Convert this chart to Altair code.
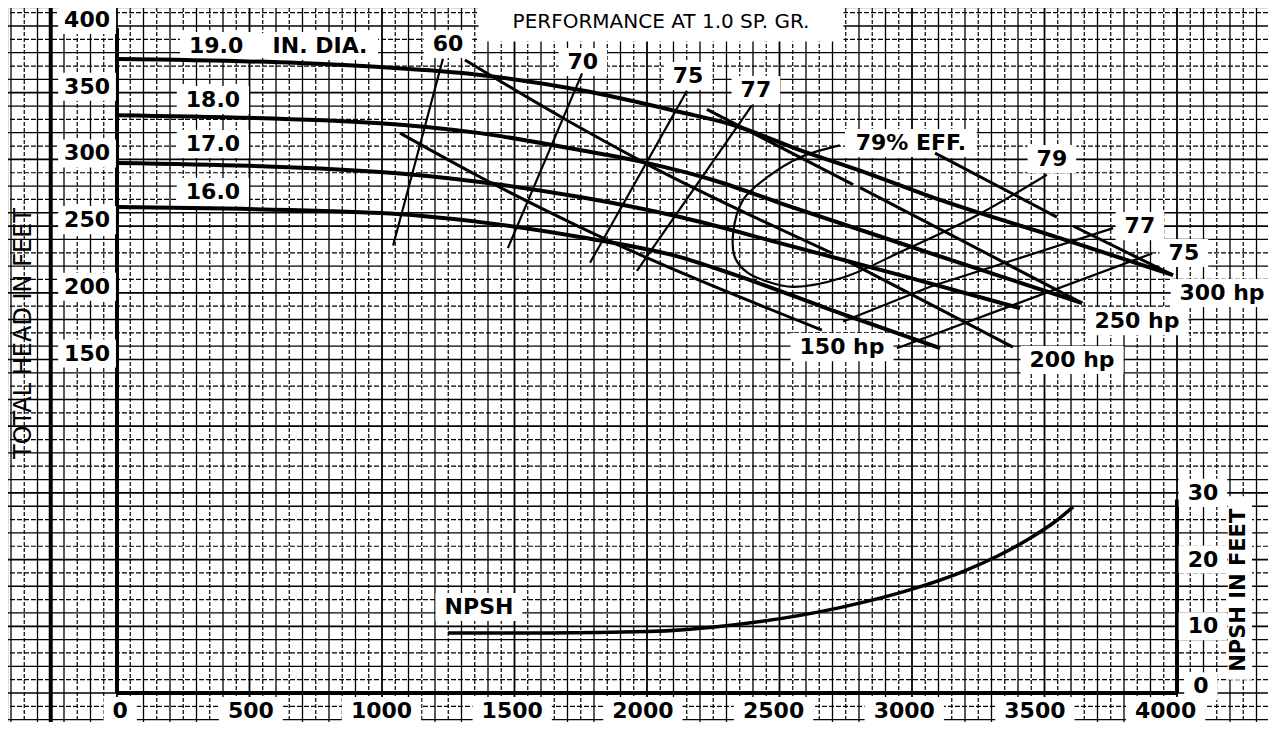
import altair as alt
import pandas as pd

# ---------------- values ----------------
# Head-capacity curves (capacity in US gpm, total head in ft)
q_19 = [0, 690, 992, 1370, 1747, 2125, 2325, 2577, 2830, 3106, 3558, 3985]
h_19 = [370.7, 367.7, 364.7, 358.8, 347.5, 331.0, 321.3, 302.5, 285.3, 265.1, 236.5, 208.8]
q_18 = [0, 992, 1370, 1747, 1985, 2249, 2502, 3068, 3642]
h_18 = [328.7, 322.7, 315.2, 302.5, 293.5, 280.1, 262.8, 225.3, 187.8]
q_17 = [0, 992, 1370, 1747, 2125, 2502, 2955, 3408]
h_17 = [292.8, 286.1, 278.6, 267.3, 252.3, 232.8, 208.8, 184.0]
q_16 = [0, 992, 1370, 1747, 2125, 2313, 2728, 3106]
h_16 = [259.8, 255.3, 248.5, 237.3, 222.3, 210.3, 180.3, 154.0]

# Brake horsepower lines (drawn in pieces where the original is broken)
q_300hp = [3087, 3547, 3608, 3985]
h_300hp = [300.2, 252.3, 245.6, 208.8]
seg_300hp = [0, 0, 1, 1]
q_250hp = [2226, 2778, 2804, 3642]
h_250hp = [333.0, 276.6, 274.4, 187.8]
seg_250hp = [0, 0, 1, 1]
q_200hp = [1313, 1683, 1985, 2698, 2740, 3381]
h_200hp = [370.0, 326.5, 293.5, 225.3, 221.0, 154.8]
seg_200hp = [0, 0, 0, 0, 1, 1]
q_150hp = [1068, 1370, 1747, 2660]
h_150hp = [315.2, 282.3, 244.8, 167.6]

# Efficiency lines (left side, rising to the labels)
q_e60 = [1042, 1230]
h_e60 = [231, 371]
q_e70 = [1475, 1755]
h_e70 = [229, 360]
q_e75 = [1785, 2151]
h_e75 = [218, 347]
q_e77 = [1962, 2396]
h_e77 = [212, 336]
# 79 % loop, continued to the right-hand "79" label
q_e79 = [2728, 2577, 2453, 2362, 2325, 2332, 2377, 2453, 2551, 2740, 2966, 3230, 3509]
h_e79 = [306, 297, 282, 265, 240, 222, 211, 204, 200, 207, 227, 252, 284]
# right-hand efficiency lines
q_e77r = [2740, 3068, 3759]
h_e77r = [174, 200, 244]
q_e75r = [2943, 3906]
h_e75r = [154, 225]

# NPSH required (ft)
q_npsh = [1249, 1634, 2000, 2325, 2728, 3004, 3192, 3321, 3445, 3547, 3608]
n_npsh = [9.0, 9.0, 9.2, 10.2, 12.8, 15.6, 18.2, 20.5, 23.2, 25.9, 27.9]

# Axis tick labels
x_ticks = [0, 500, 1000, 1500, 2000, 2500, 3000, 3500, 4000]
head_ticks = [400, 350, 300, 250, 200, 150]
npsh_ticks = [30, 20, 10, 0]

# ---------------- scales (graph paper fills the page) ----------------
W, H = 1260, 714
X_DOM = [-411.3, 4343.4]
Y_DOM = [-126.2, 409.0]
N_DOM = [-4.35, 102.7]
PX_X = W / (X_DOM[1] - X_DOM[0])
PX_Y = H / (Y_DOM[1] - Y_DOM[0])
PX_N = H / (N_DOM[1] - N_DOM[0])

xs = alt.Scale(domain=X_DOM, nice=False, zero=False)
ys = alt.Scale(domain=Y_DOM, nice=False, zero=False)
ns = alt.Scale(domain=N_DOM, nice=False, zero=False)

FONT = "DejaVu Sans"

# ---------------- graph paper ----------------
vx = list(range(-400, 4301, 50))
grid_v = pd.DataFrame({"q": vx})
grid_v["kind"] = ["major" if v % 500 == 0 else ("solid" if v % 100 == 0 else "dash") for v in vx]
hy = list(range(-4, 103, 2))
grid_h = pd.DataFrame({"n": hy})
grid_h["kind"] = ["major" if v % 10 == 0 else ("solid" if v % 4 == 0 else "dash") for v in hy]

def vgrid(kind, width, dash=None):
    mk = dict(color="black", strokeWidth=width)
    if dash:
        mk["strokeDash"] = dash
    return alt.Chart(grid_v[grid_v.kind == kind]).mark_rule(**mk).encode(
        x=alt.X("q:Q", scale=xs, axis=None))

def hgrid(kind, width, dash=None):
    mk = dict(color="black", strokeWidth=width)
    if dash:
        mk["strokeDash"] = dash
    return alt.Chart(grid_h[grid_h.kind == kind]).mark_rule(**mk).encode(
        y=alt.Y("n:Q", scale=ns, axis=None))

grid = [vgrid("dash", 1.2, [4, 2]), vgrid("solid", 1.3), vgrid("major", 1.8),
        hgrid("dash", 1.2, [5, 2]), hgrid("solid", 1.3), hgrid("major", 1.7)]

# ---------------- helpers ----------------
def line_df(q, h, name, seg=None):
    seg = seg if seg is not None else [0] * len(q)
    return pd.DataFrame({"q": q, "h": h, "name": [f"{name}-{s}" for s in seg],
                         "o": range(len(q))})

def curve(df, width, interp="monotone"):
    return alt.Chart(df).mark_line(color="black", strokeWidth=width, interpolate=interp,
                                   strokeCap="butt").encode(
        x=alt.X("q:Q", scale=xs, axis=None),
        y=alt.Y("h:Q", scale=ys, axis=None),
        detail="name:N", order="o:Q")

heads = pd.concat([line_df(q_19, h_19, "19"), line_df(q_18, h_18, "18"),
                   line_df(q_17, h_17, "17"), line_df(q_16, h_16, "16")])
hps = pd.concat([line_df(q_300hp, h_300hp, "300", seg_300hp),
                 line_df(q_250hp, h_250hp, "250", seg_250hp),
                 line_df(q_200hp, h_200hp, "200", seg_200hp),
                 line_df(q_150hp, h_150hp, "150")])
effs = pd.concat([line_df(q_e60, h_e60, "60"), line_df(q_e70, h_e70, "70"),
                  line_df(q_e75, h_e75, "75"), line_df(q_e77, h_e77, "77"),
                  line_df(q_e77r, h_e77r, "77r"), line_df(q_e75r, h_e75r, "75r")])
loop = line_df(q_e79, h_e79, "79")
npsh = pd.DataFrame({"q": q_npsh, "n": n_npsh})

# ---------------- frame lines ----------------
frame_v = pd.DataFrame({"q": [-250, 0], "top": [409.0, 394.0], "bot": [-126.2, -104.5]})
frame_left = alt.Chart(frame_v).mark_rule(color="black", strokeWidth=4).encode(
    x=alt.X("q:Q", scale=xs, axis=None), y=alt.Y("top:Q", scale=ys, axis=None), y2="bot:Q")
frame_b = pd.DataFrame({"q0": [0], "q1": [4000], "n": [0]})
frame_bottom = alt.Chart(frame_b).mark_rule(color="black", strokeWidth=4).encode(
    x=alt.X("q0:Q", scale=xs, axis=None), x2="q1:Q", y=alt.Y("n:Q", scale=ns, axis=None))
frame_r = pd.DataFrame({"q": [4000], "n0": [0], "n1": [29]})
frame_right = alt.Chart(frame_r).mark_rule(color="black", strokeWidth=4).encode(
    x=alt.X("q:Q", scale=xs, axis=None), y=alt.Y("n0:Q", scale=ns, axis=None), y2="n1:Q")

# ---------------- labels ----------------
BOLD_W = {"0": .696, "1": .696, "2": .696, "3": .696, "4": .696, "5": .696, "6": .696,
          "7": .696, "8": .696, "9": .696, ".": .38, " ": .348, "%": 1.002, "E": .683,
          "F": .683, "h": .712, "p": .716, "I": .372, "N": .838, "D": .83, "A": .774,
          "P": .733, "S": .72, "H": .838, "T": .682}

def tw(text, size):
    return sum(BOLD_W.get(c, .7) for c in text) * size

# (text, gpm, value, bold, box px (w, h) or None)
label_rows = [
    ("PERFORMANCE AT 1.0 SP. GR.", 2053, 398.8, False, (365, 40)),
    ("19.0", 374, 380.5, True, None),
    ("IN. DIA.", 766, 380.5, True, None),
    ("18.0", 362, 340.0, True, None),
    ("17.0", 362, 307.0, True, None),
    ("16.0", 362, 271.0, True, None),
    ("60", 1249, 382.0, True, None),
    ("70", 1758, 368.5, True, None),
    ("75", 2155, 358.0, True, None),
    ("77", 2411, 347.5, True, None),
    ("79% EFF.", 2996, 307.8, True, None),
    ("79", 3528, 295.8, True, None),
    ("77", 3860, 245.5, True, None),
    ("75", 4026, 225.3, True, None),
    ("300 hp", 4170, 195.3, True, None),
    ("250 hp", 3849, 174.3, True, None),
    ("200 hp", 3604, 145.1, True, None),
    ("150 hp", 2736, 154.8, True, None),
]
for v in head_ticks:
    label_rows.append((str(v), -113, v, True, None))
for v in x_ticks:
    label_rows.append((str(v), v + 12 - (v / 4000) * 55, -117.6, True, None))

npsh_rows = [("NPSH", 1366, 12.9, True, None)]
for v in npsh_ticks:
    npsh_rows.append((str(v), 4098 if v else 4090, v + (1.0 if v == 0 else 0), True, None))

SIZE_B, SIZE_R = 22, 20

def boxes_for(rows, px_y):
    out = []
    for (t, q, v, bold, box) in rows:
        if box is None:
            bw = tw(t, SIZE_B) + 18
            bh = SIZE_B * 0.73 + 12
        else:
            bw, bh = box
        out.append({"text": t, "q": q, "v": v,
                    "weight": "bold" if bold else "normal",
                    "q0": q - bw / 2 / PX_X, "q1": q + bw / 2 / PX_X,
                    "v0": v - bh / 2 / px_y, "v1": v + bh / 2 / px_y})
    return pd.DataFrame(out)

lab_h = boxes_for(label_rows, PX_Y)
lab_n = boxes_for(npsh_rows, PX_N)
# the "19.0   IN. DIA." label shares one white panel
dia_panel = pd.DataFrame({"q0": [238], "q1": [985], "v0": [371.5], "v1": [390.2]})
# bottom tick label boxes reach down to the page edge
bottom_mask = lab_h["v"] == -117.6
lab_h.loc[bottom_mask, "v0"] = -126.2
lab_h.loc[bottom_mask, "v1"] = -107.5
# left tick label boxes span the label column
left_mask = lab_h["q"] == -113
lab_h.loc[left_mask, "q0"] = -222
lab_h.loc[left_mask, "q1"] = -4

def box_layer(df, scale):
    return alt.Chart(df).mark_rect(color="white").encode(
        x=alt.X("q0:Q", scale=xs, axis=None), x2="q1:Q",
        y=alt.Y("v0:Q", scale=scale, axis=None), y2="v1:Q")

def text_layer(df, scale, weight):
    return alt.Chart(df[df.weight == weight]).mark_text(
        font=FONT, fontSize=SIZE_B if weight == "bold" else SIZE_R, fontWeight=weight,
        color="black", baseline="middle", align="center").encode(
        x=alt.X("q:Q", scale=xs, axis=None),
        y=alt.Y("v:Q", scale=scale, axis=None), text="text:N")

# axis titles
titles_h = pd.DataFrame({"text": ["TOTAL HEAD IN FEET"], "q": [-352], "v": [165.0]})
title_left = alt.Chart(titles_h).mark_text(font=FONT, fontSize=24, angle=270, color="black",
                                           baseline="middle", align="center").encode(
    x=alt.X("q:Q", scale=xs, axis=None), y=alt.Y("v:Q", scale=ys, axis=None), text="text:N")
titles_n = pd.DataFrame({"text": ["NPSH IN FEET"], "q": [4234], "v": [15.4],
                         "q0": [4192], "q1": [4283], "v0": [2.0], "v1": [29.5]})
title_right_box = alt.Chart(titles_n).mark_rect(color="white").encode(
    x=alt.X("q0:Q", scale=xs, axis=None), x2="q1:Q",
    y=alt.Y("v0:Q", scale=ns, axis=None), y2="v1:Q")
title_right = alt.Chart(titles_n).mark_text(font=FONT, fontSize=21, fontWeight="bold", angle=270,
                                            color="black", baseline="middle", align="center").encode(
    x=alt.X("q:Q", scale=xs, axis=None), y=alt.Y("v:Q", scale=ns, axis=None), text="text:N")

npsh_line = alt.Chart(npsh).mark_line(color="black", strokeWidth=3.5, interpolate="monotone").encode(
    x=alt.X("q:Q", scale=xs, axis=None), y=alt.Y("n:Q", scale=ns, axis=None))

layers = grid + [
    frame_left, frame_bottom, frame_right,
    box_layer(lab_h, ys), box_layer(dia_panel, ys), box_layer(lab_n, ns), title_right_box,
    curve(effs, 2.2, "linear"), curve(loop, 2.2, "catmull-rom"),
    curve(hps, 3.0, "monotone"), curve(heads, 4.0),
    npsh_line,
    text_layer(lab_h, ys, "bold"), text_layer(lab_h, ys, "normal"),
    text_layer(lab_n, ns, "bold"),
    title_left, title_right,
]

chart = alt.layer(*layers).resolve_scale(y="independent").properties(
    width=W, height=H, padding=0,
    autosize=alt.AutoSizeParams(type="none"),
).configure_view(stroke=None).configure(background="white")

chart.save("out.html", embed_options={"renderer": "svg", "actions": False})
